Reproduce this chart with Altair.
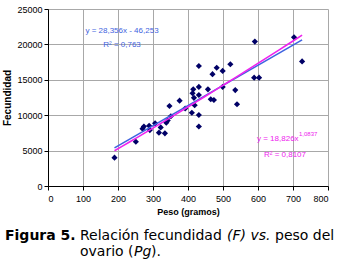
import altair as alt
import pandas as pd

peso = [190, 251, 270, 274, 289, 291, 306, 317, 322, 334, 338, 342, 347, 351, 376, 392,
        411, 413, 415, 417, 419, 431, 431, 431, 431, 431, 457, 465, 474, 470, 482, 499,
        499, 521, 535, 540, 591, 589, 603, 703, 726]
fecundidad = [4000, 6250, 8100, 8400, 8500, 7900, 8850, 7530, 8280, 7440, 8950, 9250, 11300, 9850,
              12050, 10950, 10350, 13100, 13650, 12450, 11400, 16950, 14000, 12850, 10030, 8400,
              13650, 12250, 12150, 15800, 16700, 16250, 14000, 17200, 13550, 11550, 20400, 15300,
              15300, 21000, 17600]
x_ticks = list(range(0, 801, 100))
y_ticks = list(range(0, 25001, 5000))

df = pd.DataFrame({"peso": peso, "fec": fecundidad})

BLUE = "#3f63e0"
MAG = "#ee22ee"
NAVY = "#000066"

x_enc = alt.X("peso:Q", title="Peso (gramos)",
              scale=alt.Scale(domain=[0, 800], nice=False),
              axis=alt.Axis(values=x_ticks, format="d", labelOverlap=False))
y_enc = alt.Y("fec:Q", title="Fecundidad",
              scale=alt.Scale(domain=[0, 25000], nice=False),
              axis=alt.Axis(values=y_ticks, format="d", labelOverlap=False))

base = alt.Chart(df)
points = base.mark_point(shape="diamond", filled=True, size=38, color=NAVY, opacity=1).encode(
    x=x_enc, y=y_enc)

lin = base.transform_regression("peso", "fec", method="linear").mark_line(
    color=BLUE, strokeWidth=1.6).encode(x=x_enc, y=y_enc)
powl = base.transform_regression("peso", "fec", method="pow").mark_line(
    color=MAG, strokeWidth=1.6).encode(x=x_enc, y=y_enc)


def label(text, x, y, color="black", size=8, weight="normal", style="normal",
          align="center", font="Liberation Sans"):
    return alt.Chart(pd.DataFrame({"t": [text]})).mark_text(
        align=align, baseline="alphabetic", color=color, fontSize=size,
        fontWeight=weight, fontStyle=style, font=font).encode(
        text="t:N", x=alt.value(x), y=alt.value(y))


eq_lin = "y = 28,356x - 46,253"
r2_lin = "R² = 0,763"
eq_pow = "y = 18,826x"
eq_pow_exp = "1,0837"
r2_pow = "R² = 0,8107"

annots = [
    label(eq_lin, 74, 24, color=BLUE),
    label(r2_lin, 74, 38, color=BLUE),
    label(eq_pow, 209, 132, color=MAG, align="left"),
    label(eq_pow_exp, 251, 127, color=MAG, size=6, align="left"),
    label(r2_pow, 237, 148, color=MAG),
]

cap_font = "DejaVu Sans"
CS = 14
caption = [
    label("Figura 5.", -43, 231, size=CS, weight="bold", align="left", font=cap_font),
    label("Relación fecundidad", 32, 231, size=CS, align="left", font=cap_font),
    label("(F)", 179, 231, size=CS, style="italic", align="left", font=cap_font),
    label("vs.", 202.5, 231, size=CS, style="italic", align="left", font=cap_font),
    label("peso del", 227, 231, size=CS, align="left", font=cap_font),
    label("ovario (", 32, 247, size=CS, align="left", font=cap_font),
    label("Pg", 86, 247, size=CS, style="italic", align="left", font=cap_font),
    label(").", 103, 247, size=CS, align="left", font=cap_font),
]

chart = alt.layer(points, lin, powl, *annots, *caption).properties(
    width=280, height=177,
    autosize=alt.AutoSizeParams(type="none"),
    padding={"left": 48, "top": 9, "right": 17, "bottom": 76},
).configure_view(stroke=None).configure_axis(
    labelFont="Liberation Sans", labelFontSize=9, labelColor="black",
    titleFont="Liberation Sans", titleFontSize=9, titleFontWeight="bold", titleColor="black",
    domainColor="black", tickColor="black", tickSize=4,
    gridColor="#a8a8a8", gridWidth=1,
).configure_axisX(labelPadding=4, titlePadding=4).configure_axisY(
    labelPadding=2, titlePadding=4, titleFontSize=10)

chart.save("out.html", embed_options={"renderer": "svg", "actions": False})
